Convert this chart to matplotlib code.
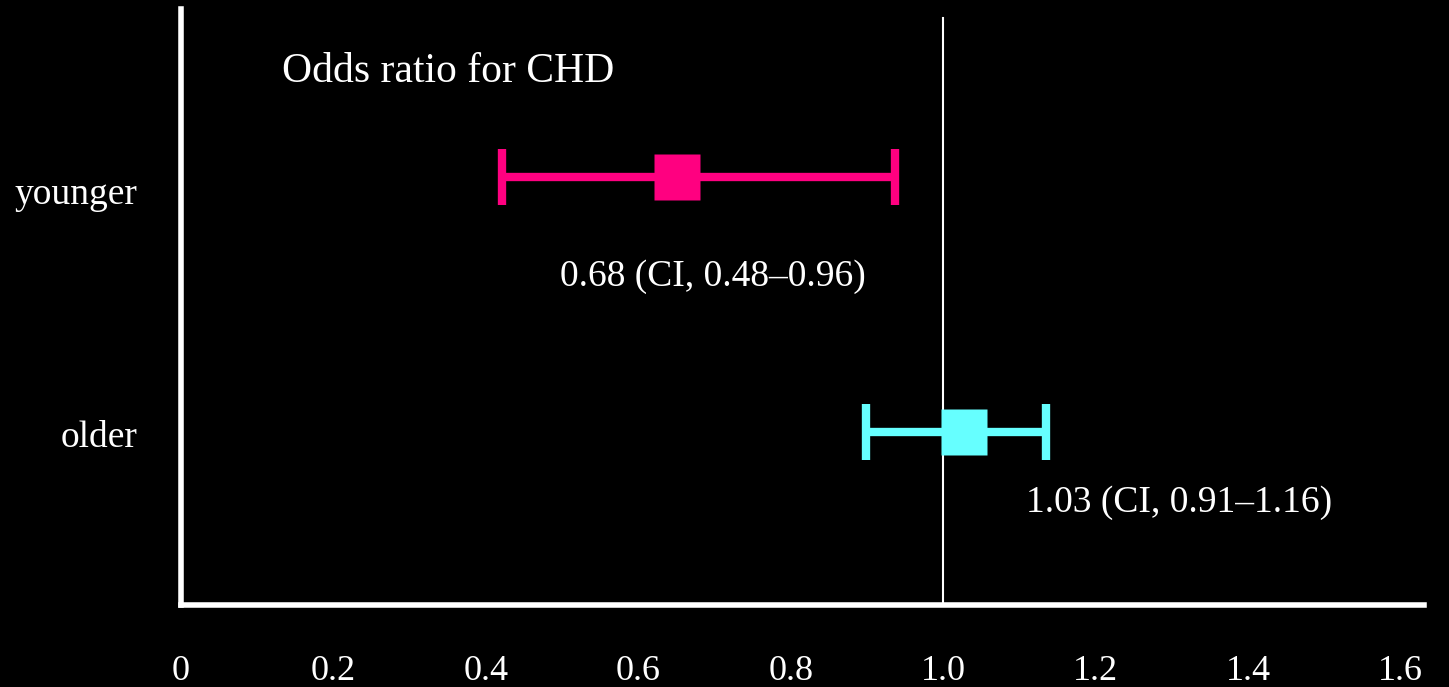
import matplotlib
matplotlib.use("Agg")
import matplotlib.pyplot as plt

# Odds ratio for CHD by age group (positions)
groups = ["younger", "older"]
group_y = [1, 0]
estimates = [0.651, 1.028]
ci_low = [0.421, 0.899]
ci_high = [0.937, 1.135]
colors = ["#ff0080", "#66ffff"]
notes = ["0.68 (CI, 0.48\u20130.96)", "1.03 (CI, 0.91\u20131.16)"]

xticks = [0, 0.2, 0.4, 0.6, 0.8, 1.0, 1.2, 1.4, 1.6]
xtick_labels = ["0", "0.2", "0.4", "0.6", "0.8", "1.0", "1.2", "1.4", "1.6"]

plt.rcParams["font.family"] = ["Liberation Serif", "DejaVu Serif"]

fig = plt.figure(figsize=(14.49, 6.87), dpi=100, facecolor="black")
ax = fig.add_axes([181 / 1449, 82 / 687, 1243 / 1449, 596 / 687])
ax.set_facecolor("black")

# Reference line at OR = 1
ax.axvline(1.0, ymin=0, ymax=0.985, color="white", lw=1.5, zorder=1)

for y, est, lo, hi, c in zip(group_y, estimates, ci_low, ci_high, colors):
    ax.errorbar(est, y, xerr=[[est - lo], [hi - est]], fmt="none",
                ecolor=c, elinewidth=6, capsize=20, capthick=6, zorder=2)
    ax.plot(est, y, marker="s", ms=33, mec="none", color=c, zorder=3)

ax.set_xlim(0, 1.631)
ax.set_ylim(-0.678, 1.659)

ax.set_xticks(xticks)
ax.set_xticklabels(xtick_labels, fontsize=26, color="white")
ax.tick_params(axis="x", length=0, pad=36)
ax.set_yticks([])

for side in ["top", "right"]:
    ax.spines[side].set_visible(False)
for side in ["left", "bottom"]:
    ax.spines[side].set_color("white")
    ax.spines[side].set_linewidth(4)
ax.spines["bottom"].set_capstyle("projecting")

# Group labels to the left of the axis
for name, yb in zip(groups, [0.894, -0.059]):
    ax.text(-0.035, yb, name, transform=ax.get_yaxis_transform(),
            ha="right", va="baseline", fontsize=27, color="white")

ax.text(0.1325, 1.373, "Odds ratio for CHD", fontsize=30, color="white",
        ha="left", va="baseline")
ax.text(0.698, 0.573, notes[0], fontsize=27, color="white",
        ha="center", va="baseline")
ax.text(1.310, -0.314, notes[1], fontsize=27, color="white",
        ha="center", va="baseline")

fig.savefig("out.png", dpi=100, facecolor="black")
